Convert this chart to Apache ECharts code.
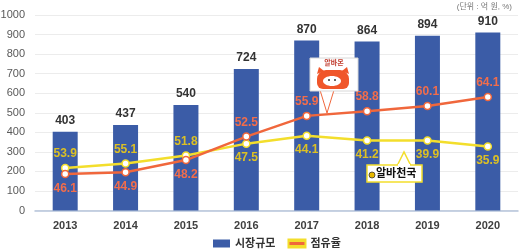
<!DOCTYPE html>
<html><head><meta charset="utf-8">
<script src="https://cdn.jsdelivr.net/npm/echarts@6/dist/echarts.min.js"></script>
<style>html,body{margin:0;padding:0;background:#fff}#c{width:530px;height:251px}</style>
</head><body><div id="c"></div>
<script>
var categories = ['2013','2014','2015','2016','2017','2018','2019','2020'];
var marketSize = [403, 437, 540, 724, 870, 864, 894, 910];
// share values (labels)
var albamonShare = [46.1, 44.9, 48.2, 52.5, 55.9, 58.8, 60.1, 64.1];
var albachunShare = [53.9, 55.1, 51.8, 47.5, 44.1, 41.2, 39.9, 35.9];
// schematic heights of the share lines
var albamonLineLevel = [187, 196, 258, 378, 484, 508, 535, 581];
var albachunLineLevel = [217, 240, 281, 342, 382, 358, 358, 327];
var yTicks = [0, 100, 200, 300, 400, 500, 600, 700, 800, 900, 1000];

var albamonLabelPos = ['bottom','bottom','bottom','top','top','top','top','top'];
var albachunLabelPos = ['top','top','top','bottom','bottom','bottom','bottom','bottom'];

var FONT = '"Liberation Sans","Noto Sans CJK KR",sans-serif';
var ORANGE = '#f0673c', YELLOW = '#f3de2c';

function lineData(levels, shares, pos) {
  return levels.map(function (v, i) {
    return { value: v, share: shares[i], label: { position: pos[i] } };
  });
}

var chart = echarts.init(document.getElementById('c'));
chart.setOption({
  animation: false,
  textStyle: { fontFamily: FONT },
  grid: { left: 35, right: 12, top: 15, bottom: 40.5, containLabel: false, outerBoundsMode: 'none' },
  legend: {
    left: 208, top: 233, itemWidth: 17, itemHeight: 8, itemGap: 12,
    textStyle: { fontSize: 11, fontWeight: 'bold', color: '#333', fontFamily: FONT },
    data: [
      { name: '시장규모', icon: 'rect' },
      { name: '점유율', icon: 'rect', itemStyle: { color: new echarts.graphic.LinearGradient(0, 0, 0, 1, [
        { offset: 0, color: YELLOW }, { offset: 0.33, color: YELLOW },
        { offset: 0.33, color: ORANGE }, { offset: 0.67, color: ORANGE },
        { offset: 0.67, color: YELLOW }, { offset: 1, color: YELLOW }]) } }
    ]
  },
  xAxis: {
    type: 'category', data: categories,
    axisLine: { lineStyle: { color: '#b5c3da', width: 1.5 } },
    axisTick: { show: false },
    axisLabel: { fontSize: 11, fontWeight: 'bold', color: '#404040', margin: 10 }
  },
  yAxis: {
    type: 'value', min: yTicks[0], max: yTicks[yTicks.length - 1], interval: 100,
    axisLine: { show: false }, axisTick: { show: false },
    axisLabel: { fontSize: 11, color: '#595959', margin: 10, formatter: function (v) { return String(v); } },
    splitLine: { lineStyle: { color: '#ececec' } }
  },
  series: [
    {
      name: '시장규모', type: 'bar', data: marketSize, barWidth: 25,
      itemStyle: { color: '#3b5ca7' },
      label: { show: true, position: 'top', distance: 5, fontSize: 12, fontWeight: 'bold', color: '#333' }
    },
    {
      name: '점유율', type: 'line', data: lineData(albachunLineLevel, albachunShare, albachunLabelPos),
      lineStyle: { color: YELLOW, width: 2.5 }, itemStyle: { color: '#fff', borderColor: YELLOW, borderWidth: 1.5 },
      symbol: 'circle', symbolSize: 7, z: 3,
      label: { show: true, fontSize: 12, fontWeight: 'bold', color: '#dcc024', distance: 4,
        formatter: function (p) { return p.data.share.toFixed(1); } }
    },
    {
      name: '점유율', type: 'line', data: lineData(albamonLineLevel, albamonShare, albamonLabelPos),
      lineStyle: { color: ORANGE, width: 2.5 }, itemStyle: { color: '#fff', borderColor: ORANGE, borderWidth: 1.5 },
      symbol: 'circle', symbolSize: 7, z: 4,
      label: { show: true, fontSize: 12, fontWeight: 'bold', color: '#f26d4b', distance: 4,
        formatter: function (p) { return p.data.share.toFixed(1); } }
    }
  ],
  graphic: [
    { type: 'text', right: 18, top: 3, style: { text: '(단위 : 억 원, %)', fontSize: 8, fill: '#777', fontFamily: FONT } },
    // 알바몬 callout
    { type: 'polygon', z: 20, shape: { points: [[320, 90], [327, 113], [334, 90]] }, style: { fill: '#fff', stroke: ORANGE, lineWidth: 1 } },
    { type: 'rect', z: 21, shape: { x: 310, y: 58, width: 48, height: 33 }, style: { fill: '#fff', stroke: '#d8d8d8', lineWidth: 1 } },
    { type: 'text', z: 22, style: { x: 334, y: 60, text: '알바몬', align: 'center', fontSize: 7, fontWeight: 'bold', fill: '#c0392b', fontFamily: FONT } },
    { type: 'rect', z: 22, shape: { x: 317, y: 70, width: 32, height: 19, r: [9, 9, 6, 6] }, style: { fill: '#f0562a' } },
    { type: 'polygon', z: 22, shape: { points: [[317, 74], [319, 67], [324, 71]] }, style: { fill: '#f0562a' } },
    { type: 'polygon', z: 22, shape: { points: [[349, 74], [347, 67], [342, 71]] }, style: { fill: '#f0562a' } },
    { type: 'ellipse', z: 23, shape: { cx: 332, cy: 81, rx: 9, ry: 5 }, style: { fill: '#fff' } },
    { type: 'circle', z: 24, shape: { cx: 329, cy: 80, r: 1 }, style: { fill: '#333' } },
    { type: 'circle', z: 24, shape: { cx: 335, cy: 80, r: 1 }, style: { fill: '#333' } },
    // 알바천국 callout
    { type: 'polygon', z: 20, shape: { points: [[397, 166], [404, 152], [411, 166]] }, style: { fill: '#fff', stroke: YELLOW, lineWidth: 1.5 } },
    { type: 'rect', z: 21, shape: { x: 367, y: 165, width: 55, height: 17 }, style: { fill: '#fff', stroke: YELLOW, lineWidth: 1.5 } },
    { type: 'rect', z: 22, shape: { x: 398, y: 164, width: 12, height: 3 }, style: { fill: '#fff' } },
    { type: 'circle', z: 23, shape: { cx: 372, cy: 175, r: 3 }, style: { fill: '#e7b800', stroke: '#333', lineWidth: 0.8 } },
    { type: 'text', z: 23, style: { x: 376, y: 173.5, text: '알바천국', verticalAlign: 'middle', fontSize: 11, fontWeight: 'bold', fill: '#111', fontFamily: FONT } }
  ]
});
</script></body></html>
